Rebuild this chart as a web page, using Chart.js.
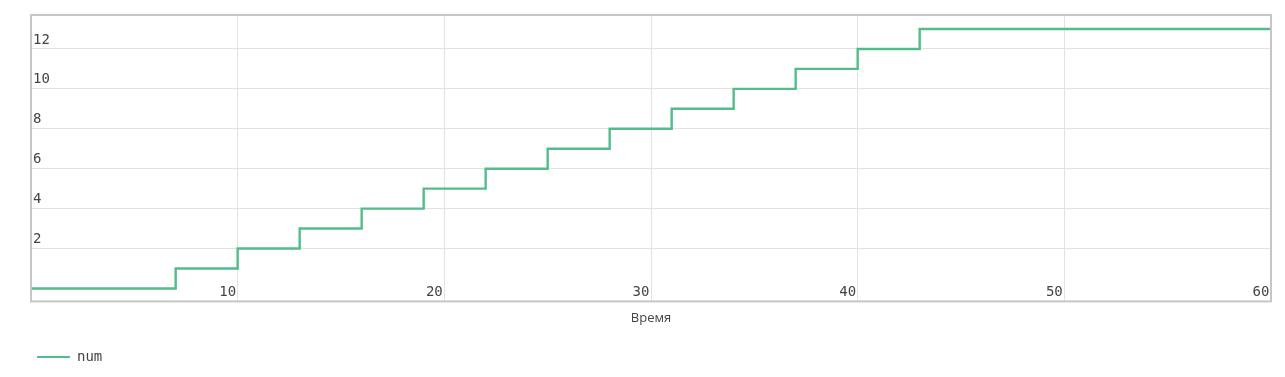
<!DOCTYPE html>
<html>
<head>
<meta charset="utf-8">
<script src="https://cdn.jsdelivr.net/npm/chart.js@4/dist/chart.umd.min.js"></script>
<style>
html,body{margin:0;padding:0;background:#fff;}
#wrap{width:1285px;height:377px;position:relative;}
</style>
</head>
<body>
<div id="wrap"><canvas id="c"></canvas></div>
<script>
// Data
const timeValues = [0, 7, 10, 13, 16, 19, 22, 25, 28, 31, 34, 37, 40, 43, 60];
const numValues  = [0, 1, 2, 3, 4, 5, 6, 7, 8, 9, 10, 11, 12, 13, 13];
const xTickValues = [10, 20, 30, 40, 50, 60];
const yTickValues = [2, 4, 6, 8, 10, 12];
const seriesName = 'num';
const xTitle = 'Время';

const lineColor = '#52bd8a';
const monoFont = {family: '"DejaVu Sans Mono", monospace', size: 14};

const frame = {
  id: 'frame',
  afterDraw(chart) {
    const a = chart.chartArea, ctx = chart.ctx;
    ctx.save();
    ctx.strokeStyle = '#c6c6c6';
    ctx.lineWidth = 2;
    ctx.strokeRect(a.left, a.top, a.right - a.left, a.bottom - a.top);
    ctx.restore();
  }
};

new Chart(document.getElementById('c'), {
  type: 'line',
  data: {
    datasets: [{
      label: seriesName,
      data: timeValues.map((t, i) => ({x: t, y: numValues[i]})),
      borderColor: lineColor,
      backgroundColor: lineColor,
      borderWidth: 2.4,
      stepped: true,
      pointRadius: 0,
      fill: false
    }]
  },
  options: {
    responsive: true,
    maintainAspectRatio: false,
    animation: false,
    layout: {padding: {left: 27, right: 14, top: 15, bottom: 3}},
    plugins: {
      tooltip: {enabled: false},
      legend: {
        position: 'bottom',
        align: 'start',
        labels: {
          boxWidth: 33,
          boxHeight: 2,
          padding: 10,
          color: '#444',
          font: monoFont,
          generateLabels: (chart) => chart.data.datasets.map((d, i) => ({
            text: d.label, fillStyle: lineColor, strokeStyle: lineColor,
            lineWidth: 0, datasetIndex: i, fontColor: '#444'
          }))
        }
      }
    },
    scales: {
      x: {
        type: 'linear',
        min: 0, max: 60,
        afterBuildTicks: (s) => { s.ticks = xTickValues.map(v => ({value: v})); },
        grid: {color: '#e2e2e2', lineWidth: 1, drawTicks: false},
        border: {display: false},
        ticks: {
          mirror: true, padding: 1, labelOffset: -10, maxRotation: 0,
          color: '#444', font: monoFont
        },
        title: {
          display: true, text: xTitle, color: '#444',
          font: {family: '"Open Sans", "DejaVu Sans", sans-serif', size: 13},
          padding: {top: 7, bottom: 14}
        }
      },
      y: {
        type: 'linear',
        min: -0.65, max: 13.7,
        afterBuildTicks: (s) => { s.ticks = yTickValues.map(v => ({value: v})); },
        grid: {color: '#e2e2e2', lineWidth: 1, drawTicks: false},
        border: {display: false},
        ticks: {
          mirror: true, padding: 2, labelOffset: -9,
          color: '#444', font: monoFont
        }
      }
    }
  },
  plugins: [frame]
});
</script>
</body>
</html>
